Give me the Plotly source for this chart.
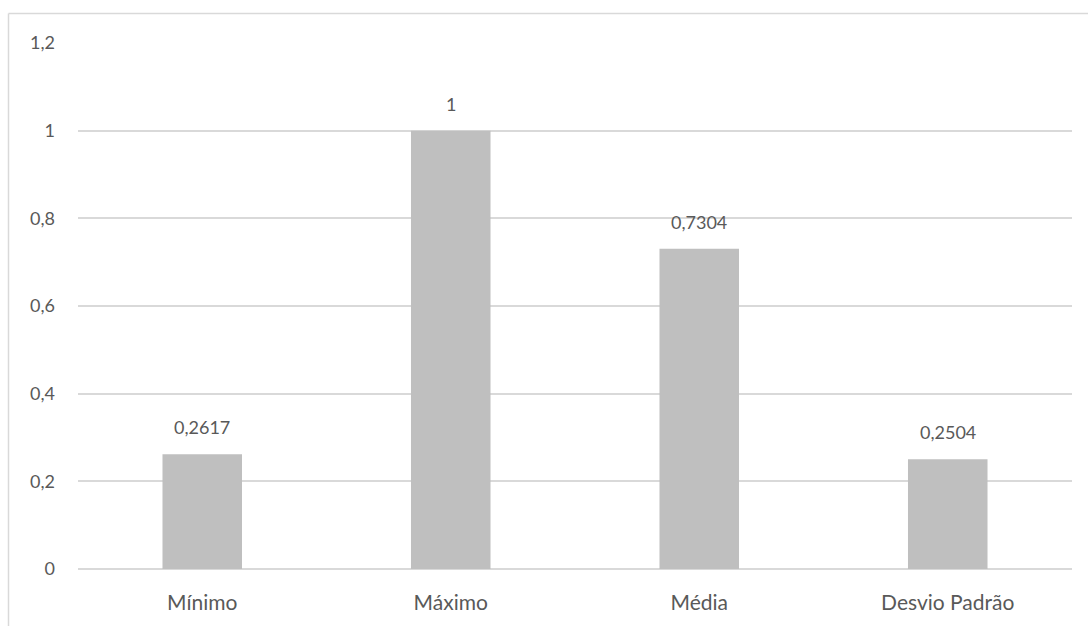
import plotly.graph_objects as go

categories = ["Mínimo", "Máximo", "Média", "Desvio Padrão"]
values = [0.2617, 1.0, 0.7304, 0.2504]
value_labels = ["0,2617", "1", "0,7304", "0,2504"]
y_ticks = [0, 0.2, 0.4, 0.6, 0.8, 1.0, 1.2]

FONT = "Lato"
TEXT_COLOR = "#595959"
GRID = "#D9D9D9"
NUM_SIZE = 18
CAT_SIZE = 21

W, H = 1088, 626
ML, MR, MT, MB = 78, 16, 43, 55
PW, PH = W - ML - MR, H - MT - MB

fig = go.Figure()
fig.add_trace(go.Bar(
    x=categories,
    y=values,
    marker=dict(color="#BFBFBF", line=dict(width=0)),
    hoverinfo="x+y",
))

# value labels above each bar
for c, v, t in zip(categories, values, value_labels):
    fig.add_annotation(
        x=c, y=v, text=t, showarrow=False,
        yanchor="middle", yshift=27,
        font=dict(family=FONT, size=NUM_SIZE, color=TEXT_COLOR),
    )

# thin frame around the chart area
def px_x(p):
    return (p - ML) / PW

def px_y(p):
    return (H - MB - p) / PH

fig.add_shape(type="line", xref="paper", yref="paper",
              x0=px_x(8.5), x1=px_x(1090), y0=px_y(13.5), y1=px_y(13.5),
              line=dict(color=GRID, width=1.5))
fig.add_shape(type="line", xref="paper", yref="paper",
              x0=px_x(8.5), x1=px_x(8.5), y0=px_y(13.5), y1=px_y(630),
              line=dict(color=GRID, width=1.5))

fig.update_layout(
    width=W, height=H,
    margin=dict(l=ML, r=MR, t=MT, b=MB, pad=0),
    paper_bgcolor="white", plot_bgcolor="white",
    separators=",.",
    bargap=0.68,
    showlegend=False,
    font=dict(family=FONT, size=NUM_SIZE, color=TEXT_COLOR),
    xaxis=dict(
        showgrid=False, zeroline=False,
        showline=False, ticks="",
        ticklabelstandoff=19,
        tickfont=dict(family=FONT, size=CAT_SIZE, color=TEXT_COLOR),
        fixedrange=True,
    ),
    yaxis=dict(
        range=[0, 1.2], tickvals=y_ticks,
        showgrid=True, gridcolor=GRID, gridwidth=1.5,
        zeroline=True, zerolinecolor=GRID, zerolinewidth=1.5,
        showline=False, ticks="",
        ticklabelstandoff=22,
        tickfont=dict(family=FONT, size=NUM_SIZE, color=TEXT_COLOR),
        fixedrange=True,
    ),
)

fig.write_html("out.html")
